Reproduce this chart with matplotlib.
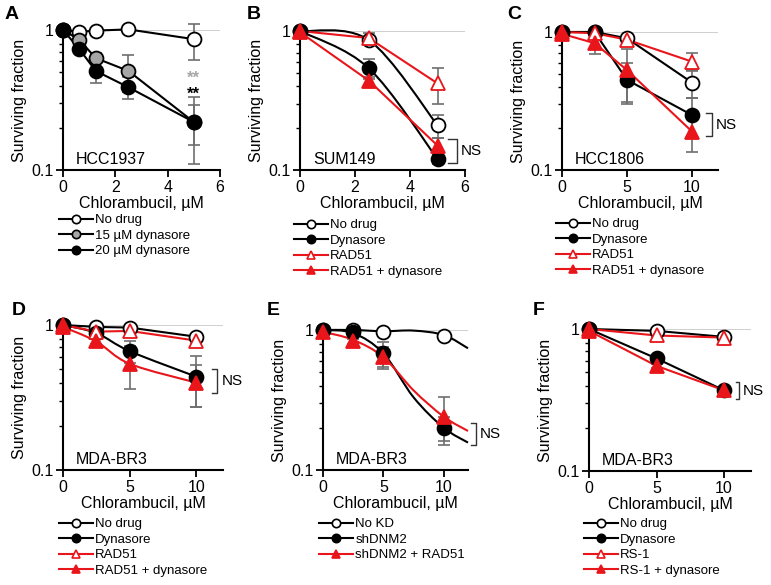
from __future__ import annotations

import matplotlib
import numpy as np

matplotlib.use("Agg")
import matplotlib.pyplot as plt
from matplotlib.lines import Line2D
from matplotlib.patches import PathPatch
from matplotlib.path import Path
from matplotlib.ticker import LogLocator, NullFormatter

plt.rcParams["font.family"] = ["Liberation Sans", "DejaVu Sans"]

RED = "#e8161b"
GRAY_FILL = "#a6a6a6"
ERR = "#6e6e6e"

# ---- data ---------------------------------------------------------------
# panel A, HCC1937
a_dose = [0, 0.625, 1.25, 2.5, 5]
a_nodrug = [1.0, 0.97, 0.99, 1.01, 0.86]
a_nodrug_err = [0, 0.02, 0.02, 0.05, 0.245]
a_dyn15 = [1.0, 0.85, 0.63, 0.51, 0.22]
a_dyn15_err = [0, 0.02, 0.05, 0.15, 0.07]
a_dyn20 = [1.0, 0.73, 0.51, 0.39, 0.22]
a_dyn20_err = [0, 0.03, 0.09, 0.07, 0.11]

# panel B, SUM149
b_dose = [0, 2.5, 5]
b_nodrug = [1.0, 0.86, 0.21]
b_nodrug_err = [0, 0.03, 0.04]
b_dyn = [1.0, 0.54, 0.12]
b_dyn_err = [0, 0.09, 0.01]
b_rad = [1.0, 0.89, 0.42]
b_rad_err = [0, 0.08, 0.12]
b_raddyn = [0.98, 0.44, 0.15]
b_raddyn_err = [0, 0.03, 0.02]

# panel C, HCC1806
c_dose = [0, 2.5, 5, 10]
c_nodrug = [1.0, 1.0, 0.90, 0.43]
c_nodrug_err = [0, 0.02, 0.03, 0.10]
c_dyn = [1.0, 1.0, 0.45, 0.25]
c_dyn_err = [0, 0.02, 0.15, 0.08]
c_rad = [1.0, 0.98, 0.88, 0.61]
c_rad_err = [0, 0.03, 0.05, 0.09]
c_raddyn = [0.97, 0.83, 0.53, 0.19]
c_raddyn_err = [0, 0.14, 0.22, 0.055]

# panel D, MDA-BR3
d_dose = [0, 2.5, 5, 10]
d_nodrug = [1.0, 0.97, 0.96, 0.83]
d_nodrug_err = [0, 0.02, 0.02, 0.04]
d_dyn = [1.0, 0.88, 0.66, 0.44]
d_dyn_err = [0, 0.03, 0.11, 0.17]
d_rad = [1.0, 0.90, 0.91, 0.78]
d_rad_err = [0, 0.03, 0.03, 0.04]
d_raddyn = [0.97, 0.77, 0.54, 0.40]
d_raddyn_err = [0, 0.03, 0.18, 0.13]

# panel E, MDA-BR3 knockdown (points + fitted curves)
e_dose = [0, 2.5, 5, 10]
e_nokd = [1.0, 1.0, 0.96, 0.91]
e_nokd_err = [0, 0.01, 0.02, 0.02]
e_sh = [1.0, 0.96, 0.68, 0.20]
e_sh_err = [0, 0.03, 0.14, 0.04]
e_shrad = [0.97, 0.83, 0.64, 0.24]
e_shrad_err = [0, 0.03, 0.11, 0.09]
e_fit_dose = [0, 2.5, 5, 7.5, 10, 12]
e_fit_nokd = [1.0, 1.0, 0.98, 0.99, 0.92, 0.74]
e_fit_sh = [1.0, 0.95, 0.68, 0.33, 0.20, 0.157]
e_fit_shrad = [0.97, 0.85, 0.64, 0.37, 0.24, 0.19]

# panel F, MDA-BR3 with RS-1
f_dose = [0, 5, 10]
f_nodrug = [1.0, 0.97, 0.88]
f_nodrug_err = [0, 0.02, 0.04]
f_dyn = [1.0, 0.62, 0.37]
f_dyn_err = [0, 0.02, 0.02]
f_rs = [1.0, 0.90, 0.87]
f_rs_err = [0, 0.02, 0.06]
f_rsdyn = [0.97, 0.55, 0.37]
f_rsdyn_err = [0, 0.02, 0.02]

STYLES = {
    "open_circle": dict(color="black", marker="o", mfc="white", mec="black"),
    "gray_circle": dict(color="black", marker="o", mfc=GRAY_FILL, mec="black"),
    "filled_circle": dict(color="black", marker="o", mfc="black", mec="black"),
    "open_tri": dict(color=RED, marker="^", mfc="white", mec=RED),
    "filled_tri": dict(color=RED, marker="^", mfc=RED, mec=RED),
}

W, H = 771, 585


def make_axes(fig, left, right, top, bottom):
    return fig.add_axes([left / W, 1 - bottom / H, (right - left) / W, (bottom - top) / H])


def smooth_line(ax, xs, ys, color):
    # Catmull-Rom bezier drawn in (x, log y) space, like a smoothed spreadsheet line
    pts = np.column_stack([np.asarray(xs, float), np.log10(ys)])
    verts = [pts[0]]
    codes = [Path.MOVETO]
    n = len(pts)
    for i in range(n - 1):
        p0 = pts[max(i - 1, 0)]
        p1 = pts[i]
        p2 = pts[i + 1]
        p3 = pts[min(i + 2, n - 1)]
        verts += [p1 + (p2 - p0) / 6, p2 - (p3 - p1) / 6, p2]
        codes += [Path.CURVE4] * 3
    verts = np.array(verts)
    verts[:, 1] = 10 ** verts[:, 1]
    ax.add_patch(PathPatch(Path(verts, codes), fill=False, edgecolor=color,
                           lw=1.5, clip_on=False, zorder=3))


def series(ax, x, y, err, style, smooth=False, line=True, z=4):
    st = STYLES[style]
    ax.errorbar(x, y, yerr=err, fmt="none", ecolor=ERR, elinewidth=1.2,
                capsize=4, capthick=1.2, clip_on=False, zorder=2)
    if line:
        if smooth:
            smooth_line(ax, x, y, st["color"])
        else:
            ax.plot(x, y, color=st["color"], lw=1.5, clip_on=False, zorder=3)
    ax.plot(x, y, ls="none", marker=st["marker"], ms=10, mfc=st["mfc"],
            mec=st["mec"], mew=1.3, clip_on=False, zorder=z)


def style_axes(ax, xmax, xticks, cell):
    ax.set_yscale("log")
    ax.set_ylim(0.1, 1.0)
    ax.set_xlim(0, xmax)
    ax.set_yticks([0.1, 1], labels=["0.1", "1"])
    ax.yaxis.set_minor_locator(LogLocator(base=10, subs=np.arange(2, 10)))
    ax.yaxis.set_minor_formatter(NullFormatter())
    ax.set_xticks(xticks)
    ax.spines[["top", "right"]].set_visible(False)
    for side in ("left", "bottom"):
        ax.spines[side].set_linewidth(1.5)
    ax.tick_params(which="major", direction="out", length=5, width=1.3,
                   labelsize=11.5, pad=2)
    ax.tick_params(which="minor", direction="out", length=3, width=1.0)
    ax.axhline(1, color="#cccccc", lw=1.3, zorder=0)
    ax.set_xlabel("Chlorambucil, \u00b5M", fontsize=11.5, labelpad=1)
    ax.set_ylabel("Surviving fraction", fontsize=11.5, labelpad=3)
    ax.annotate(cell, xy=(0, 0), xycoords="axes fraction", xytext=(13, 3),
                textcoords="offset pixels", fontsize=11.5, va="bottom")


def bracket(ax, x0, x1, lo, hi):
    ax.plot([x0, x1, x1, x0], [lo, lo, hi, hi], color="#333333", lw=1.0,
            clip_on=False, zorder=5)
    ax.annotate("NS", xy=(x1, np.sqrt(lo * hi)), xytext=(4, 0),
                textcoords="offset pixels", fontsize=11, va="center",
                annotation_clip=False)


def legend(ax, fig, entries, left, top):
    handles = []
    for style, label in entries:
        st = STYLES[style]
        handles.append(Line2D([], [], color=st["color"], lw=1.5, marker=st["marker"],
                              ms=6, mfc=st["mfc"], mec=st["mec"], mew=1.2, label=label))
    ax.legend(handles=handles, loc="upper left", bbox_to_anchor=(left / W, 1 - top / H),
              bbox_transform=fig.transFigure, frameon=False, fontsize=9.5,
              handlelength=2.6, handletextpad=0.15, labelspacing=0.25,
              borderpad=0, borderaxespad=0)


fig = plt.figure(figsize=(W / 100, H / 100), dpi=100)

# A
ax = make_axes(fig, 63, 220, 30, 170)
series(ax, a_dose, a_nodrug, a_nodrug_err, "open_circle")
series(ax, a_dose, a_dyn15, a_dyn15_err, "gray_circle")
series(ax, a_dose, a_dyn20, a_dyn20_err, "filled_circle")
style_axes(ax, 6, [0, 2, 4, 6], "HCC1937")
ax.text(a_dose[-1], 0.45, "**", color=GRAY_FILL, fontsize=12, fontweight="bold",
        ha="center", va="center")
ax.text(a_dose[-1], 0.345, "**", color="black", fontsize=12, fontweight="bold",
        ha="center", va="center")
legend(ax, fig, [("open_circle", "No drug"), ("gray_circle", "15 \u00b5M dynasore"),
                 ("filled_circle", "20 \u00b5M dynasore")], 59, 214)

# B
ax = make_axes(fig, 300, 465, 31, 170)
series(ax, b_dose, b_nodrug, b_nodrug_err, "open_circle", smooth=True)
series(ax, b_dose, b_dyn, b_dyn_err, "filled_circle", smooth=True)
series(ax, b_dose, b_rad, b_rad_err, "open_tri")
series(ax, b_dose, b_raddyn, b_raddyn_err, "filled_tri")
style_axes(ax, 6, [0, 2, 4, 6], "SUM149")
bracket(ax, 5.38, 5.7, 0.112, 0.166)
legend(ax, fig, [("open_circle", "No drug"), ("filled_circle", "Dynasore"),
                 ("open_tri", "RAD51"), ("filled_tri", "RAD51 + dynasore")], 294, 219)

# C
ax = make_axes(fig, 562, 718, 32, 170)
series(ax, c_dose, c_nodrug, c_nodrug_err, "open_circle")
series(ax, c_dose, c_dyn, c_dyn_err, "filled_circle")
series(ax, c_dose, c_rad, c_rad_err, "open_tri")
series(ax, c_dose, c_raddyn, c_raddyn_err, "filled_tri")
style_axes(ax, 12, [0, 5, 10], "HCC1806")
bracket(ax, 11.07, 11.5, 0.175, 0.26)
legend(ax, fig, [("open_circle", "No drug"), ("filled_circle", "Dynasore"),
                 ("open_tri", "RAD51"), ("filled_tri", "RAD51 + dynasore")], 556, 218)

# D
ax = make_axes(fig, 63, 223, 325, 470)
series(ax, d_dose, d_nodrug, d_nodrug_err, "open_circle")
series(ax, d_dose, d_dyn, d_dyn_err, "filled_circle", smooth=True)
series(ax, d_dose, d_rad, d_rad_err, "open_tri")
series(ax, d_dose, d_raddyn, d_raddyn_err, "filled_tri", smooth=True)
style_axes(ax, 12, [0, 5, 10], "MDA-BR3")
bracket(ax, 11.2, 11.57, 0.34, 0.50)
legend(ax, fig, [("open_circle", "No drug"), ("filled_circle", "Dynasore"),
                 ("open_tri", "RAD51"), ("filled_tri", "RAD51 + dynasore")], 59, 518)

# E
ax = make_axes(fig, 323, 468, 330, 470)
series(ax, e_dose, e_nokd, e_nokd_err, "open_circle", line=False)
series(ax, e_dose, e_sh, e_sh_err, "filled_circle", line=False)
series(ax, e_dose, e_shrad, e_shrad_err, "filled_tri", line=False)
smooth_line(ax, e_fit_dose, e_fit_nokd, "black")
smooth_line(ax, e_fit_dose, e_fit_sh, "black")
smooth_line(ax, e_fit_dose, e_fit_shrad, RED)
style_axes(ax, 12, [0, 5, 10], "MDA-BR3")
bracket(ax, 12.26, 12.66, 0.15, 0.217)
legend(ax, fig, [("open_circle", "No KD"), ("filled_circle", "shDNM2"),
                 ("filled_tri", "shDNM2 + RAD51")], 319, 518)

# F
ax = make_axes(fig, 589, 751, 329, 471)
series(ax, f_dose, f_nodrug, f_nodrug_err, "open_circle")
series(ax, f_dose, f_dyn, f_dyn_err, "filled_circle")
series(ax, f_dose, f_rs, f_rs_err, "open_tri")
series(ax, f_dose, f_rsdyn, f_rsdyn_err, "filled_tri")
style_axes(ax, 12, [0, 5, 10], "MDA-BR3")
bracket(ax, 10.88, 11.1, 0.32, 0.42)
legend(ax, fig, [("open_circle", "No drug"), ("filled_circle", "Dynasore"),
                 ("open_tri", "RS-1"), ("filled_tri", "RS-1 + dynasore")], 584, 518)

# panel letters
for letter, px, py in [("A", 5, 6), ("B", 247, 6), ("C", 507, 6),
                       ("D", 12, 302), ("E", 267, 302), ("F", 533, 302)]:
    fig.text(px / W, 1 - py / H, letter, fontsize=14, fontweight="bold", va="top")

fig.savefig("out.png", dpi=100)
plt.close(fig)
